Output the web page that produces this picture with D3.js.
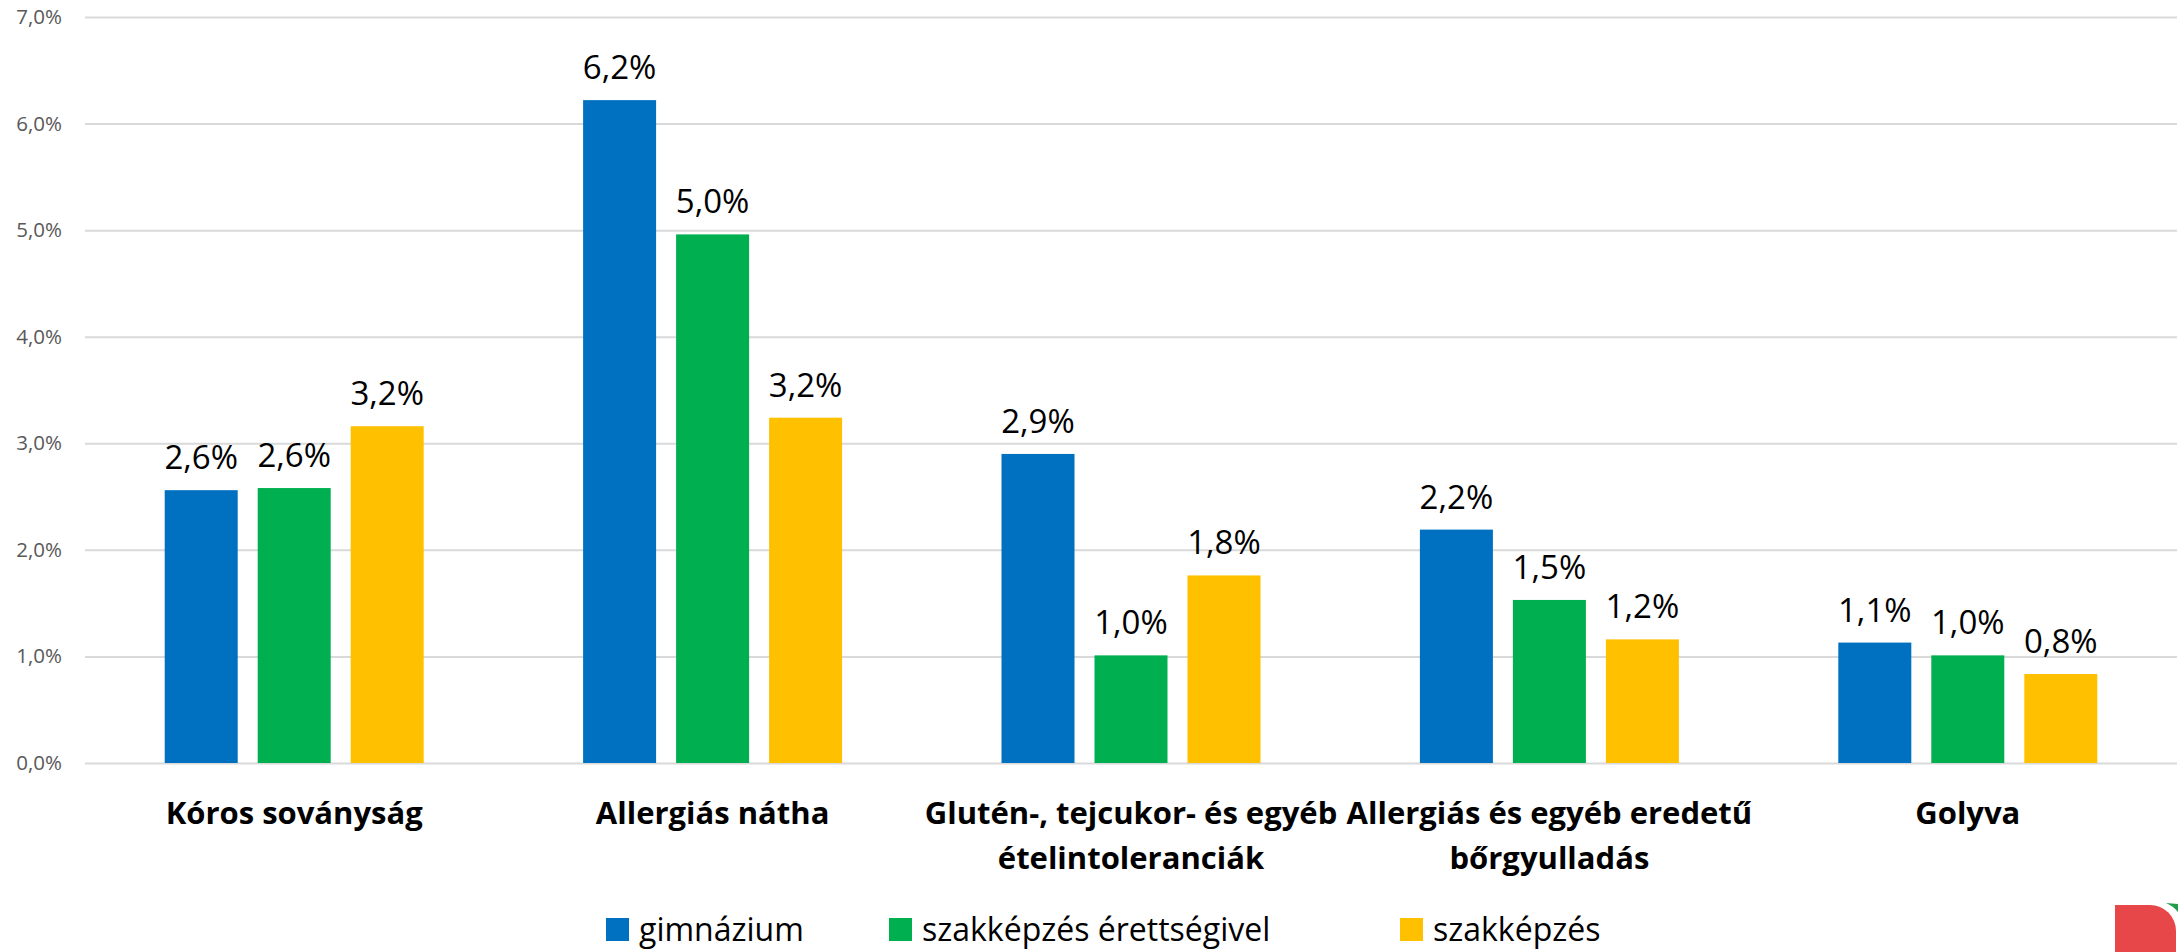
<!DOCTYPE html>
<html>
<head>
<meta charset="utf-8">
<script src="https://cdn.jsdelivr.net/npm/d3@7"></script>
<style>
  body { margin: 0; background: #fff; }
  svg { display: block; }
</style>
</head>
<body>
<div id="chart"></div>
<script>
// categories (line breaks where the original wraps them)
const categories = [
  "Kóros soványság",
  "Allergiás nátha",
  "Glutén-, tejcukor- és egyéb\nételintoleranciák",
  "Allergiás és egyéb eredetű\nbőrgyulladás",
  "Golyva"
];
const seriesNames = ["gimnázium", "szakképzés érettségivel", "szakképzés"];
const gimnazium = [2.56, 6.22, 2.90, 2.19, 1.13];
const szakErettsegivel = [2.58, 4.96, 1.01, 1.53, 1.01];
const szakkepzes = [3.16, 3.24, 1.76, 1.16, 0.835];
const yTicks = [0, 1, 2, 3, 4, 5, 6, 7];
const colors = ["#0070C0", "#00B050", "#FFC000"];

const W = 2178, H = 952;
const seriesValues = [gimnazium, szakErettsegivel, szakkepzes];
const fmt = v => v.toFixed(1).replace(".", ",") + "%";

const svg = d3.select("#chart").append("svg")
  .attr("width", W)
  .attr("height", H);

const x = d3.scaleBand().domain(categories).range([85, 2177]);
const xSub = d3.scaleBand().domain(seriesNames)
  .range([0, x.bandwidth()])
  .paddingInner(0.215)
  .paddingOuter(0.857);
const y = d3.scaleLinear().domain([0, 7]).range([763, 17]);

// gridlines + y labels
const yAxis = d3.axisLeft(y)
  .tickValues(yTicks)
  .tickFormat(d => d.toFixed(1).replace(".", ",") + "%")
  .tickSize(-(2177 - 85))
  .tickPadding(23);

const gy = svg.append("g")
  .attr("transform", "translate(85,0)")
  .call(yAxis);
gy.select(".domain").remove();
gy.selectAll("line").attr("stroke", "#D9D9D9").attr("stroke-width", 2);
gy.selectAll("text")
  .attr("fill", "#595959")
  .style("font-family", "'Open Sans', sans-serif")
  .style("font-size", "20.5px");

// bars
const groups = svg.selectAll("g.cat")
  .data(categories)
  .enter()
  .append("g")
  .attr("class", "cat")
  .attr("transform", d => "translate(" + x(d) + ",0)");

groups.selectAll("rect")
  .data((d, i) => seriesNames.map((s, j) => ({ s: s, v: seriesValues[j][i], c: colors[j] })))
  .enter()
  .append("rect")
  .attr("x", d => xSub(d.s))
  .attr("width", xSub.bandwidth())
  .attr("y", d => y(d.v))
  .attr("height", d => y(0) - y(d.v))
  .attr("fill", d => d.c);

groups.selectAll("text.val")
  .data((d, i) => seriesNames.map((s, j) => ({ s: s, v: seriesValues[j][i] })))
  .enter()
  .append("text")
  .attr("class", "val")
  .attr("x", d => xSub(d.s) + xSub.bandwidth() / 2)
  .attr("y", d => y(d.v) - 21)
  .attr("text-anchor", "middle")
  .style("font-family", "'Open Sans', sans-serif")
  .style("font-size", "33px")
  .attr("fill", "#000")
  .text(d => fmt(d.v));

// category labels
groups.append("text")
  .attr("text-anchor", "middle")
  .style("font-family", "'Open Sans', sans-serif")
  .style("font-weight", "bold")
  .style("font-size", "31px")
  .attr("fill", "#000")
  .selectAll("tspan")
  .data(d => d.split("\n"))
  .enter()
  .append("tspan")
  .attr("x", x.bandwidth() / 2)
  .attr("y", (d, i) => 824 + i * 45)
  .text(d => d);

// legend
const legendX = [606, 889, 1400];
const legend = svg.selectAll("g.leg")
  .data(seriesNames)
  .enter()
  .append("g")
  .attr("class", "leg")
  .attr("transform", (d, i) => "translate(" + legendX[i] + ",918)");
legend.append("rect")
  .attr("width", 23)
  .attr("height", 23)
  .attr("fill", (d, i) => colors[i]);
legend.append("text")
  .attr("x", 33)
  .attr("y", 23)
  .style("font-family", "'Open Sans', sans-serif")
  .style("font-size", "32px")
  .attr("fill", "#000")
  .text(d => d);

// corner of a logo cut off at the bottom right
svg.append("path")
  .attr("d", "M2115,905 H2150 A26,26 0 0 1 2176,931 V952 H2115 Z")
  .attr("fill", "#E8474A");
svg.append("path")
  .attr("d", "M2166,903 A30,30 0 0 1 2178,912 V904 Z")
  .attr("fill", "#1E9E4A");
</script>
</body>
</html>
